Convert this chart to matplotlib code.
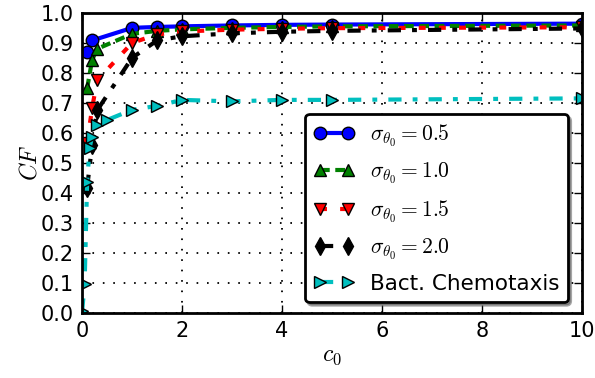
import matplotlib
matplotlib.use("Agg")
import matplotlib.pyplot as plt

plt.rcParams["mathtext.fontset"] = "cm"
plt.rcParams["font.family"] = "DejaVu Sans"
plt.rcParams["lines.scale_dashes"] = False

# Data
c0_blue = [0.1, 0.2, 1.0, 1.5, 2.0, 3.0, 4.0, 5.0, 10.0]
cf_blue = [0.868, 0.908, 0.950, 0.953, 0.955, 0.958, 0.960, 0.961, 0.964]

c0_green = [0.1, 0.2, 0.3, 1.0, 1.5, 2.0, 3.0, 4.0, 5.0, 10.0]
cf_green = [0.748, 0.843, 0.880, 0.930, 0.940, 0.945, 0.950, 0.953, 0.955, 0.958]

c0_red = [0.1, 0.2, 0.3, 1.0, 1.5, 2.0, 3.0, 4.0, 5.0, 10.0]
cf_red = [0.567, 0.682, 0.775, 0.900, 0.928, 0.938, 0.944, 0.947, 0.949, 0.952]

c0_black = [0.1, 0.2, 0.3, 1.0, 1.5, 2.0, 3.0, 4.0, 5.0, 10.0]
cf_black = [0.417, 0.560, 0.675, 0.850, 0.908, 0.922, 0.932, 0.937, 0.940, 0.948]

c0_bact = [0.0, 0.05, 0.1, 0.15, 0.2, 0.3, 0.5, 1.0, 1.5, 2.0, 3.0, 4.0, 5.0, 10.0]
cf_bact = [0.005, 0.095, 0.435, 0.550, 0.588, 0.625, 0.643, 0.677, 0.690, 0.710,
           0.705, 0.710, 0.710, 0.715]

labels = [r"$\sigma_{\theta_0}=0.5$", r"$\sigma_{\theta_0}=1.0$",
          r"$\sigma_{\theta_0}=1.5$", r"$\sigma_{\theta_0}=2.0$",
          "Bact. Chemotaxis"]

fig = plt.figure(figsize=(5.95, 3.78), dpi=100)
ax = fig.add_axes([0.138, 0.172, 0.840, 0.794])

dashdot = (0, (9.5, 8, 3.5, 8))
ax.plot(c0_blue, cf_blue, "o-", color="b", lw=3, ms=9, mec="k", label=labels[0])
ax.plot(c0_green, cf_green, "^", ls=(0, (7, 4)), color="g", lw=3, ms=9, mec="k",
        label=labels[1])
ax.plot(c0_red, cf_red, "v", ls=(0, (5, 9.5)), color="r", lw=3, ms=9, mec="k",
        label=labels[2])
ax.plot(c0_black, cf_black, "d", ls=dashdot, color="k", lw=3, ms=9, mec="k",
        label=labels[3])
ax.plot(c0_bact, cf_bact, ">", ls=dashdot, color="c", lw=3, ms=9, mec="k",
        label=labels[4])

ax.set_xlim(0, 10)
ax.set_ylim(0, 1.0)
ax.set_yticks([i / 10 for i in range(11)])
ax.set_yticklabels(["%.1f" % (i / 10) for i in range(11)])
ax.grid(True, color="k", linestyle=(0, (1.2, 6.3)), linewidth=1.3)
ax.tick_params(direction="in", top=True, right=True, labelsize=15, length=6,
               width=1, pad=6)
for s in ax.spines.values():
    s.set_linewidth(2)

ax.set_xlabel(r"$c_0$", fontsize=17, labelpad=1)
ax.set_ylabel(r"$CF$", fontsize=17, labelpad=-1)

leg = ax.legend(loc="lower right", bbox_to_anchor=(0.972, 0.035), fontsize=15.5,
                shadow=True, fancybox=True, numpoints=2, handlelength=1.9,
                handletextpad=0.7, labelspacing=0.56, borderpad=0.4,
                borderaxespad=0, framealpha=1)
leg.get_frame().set_edgecolor("k")
leg.get_frame().set_linewidth(2)

fig.savefig("out.png", dpi=100, facecolor="white")
